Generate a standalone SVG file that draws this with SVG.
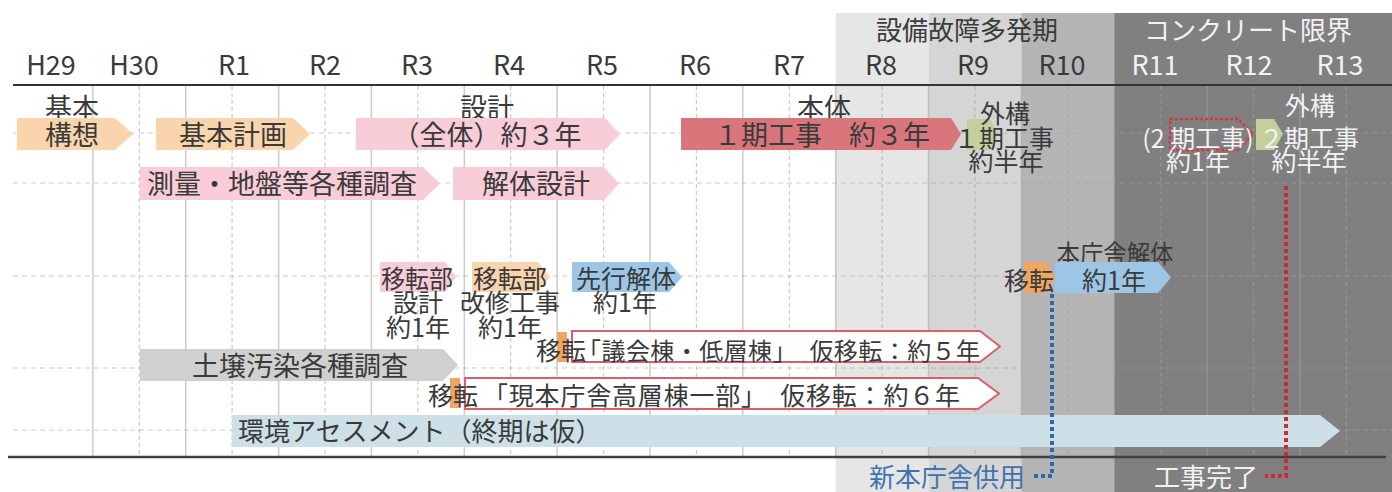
<svg xmlns="http://www.w3.org/2000/svg" width="1392" height="492" viewBox="0 0 1392 492">
<style>
text{font-family:"Noto Sans CJK JP","Noto Sans",sans-serif;fill:#3a3a3a}
.yr{font-size:27px;text-anchor:middle}
.hd{font-size:26px;text-anchor:middle}
.m{font-size:27px;text-anchor:middle}
.s{font-size:25px;text-anchor:middle}
.w{fill:#f2f2f2}
.gs{stroke:#a0a0a0;stroke-opacity:0.55;stroke-width:1.5}
.gd{stroke:#a0a0a0;stroke-opacity:0.55;stroke-width:1.2;stroke-dasharray:4 3}
.gh{stroke:#a0a0a0;stroke-opacity:0.55;stroke-width:1.2;stroke-dasharray:5 4}
.or{fill:#f9d4ac}
.od{fill:#efa662}
.pk{fill:#f8cdd8}
.rd{fill:#d8767b}
.gn{fill:#c4d09b}
.bl{fill:#9dc6e6}
.gy{fill:#d0d0d0}
.lb{fill:#cde0e8}
.ol{fill:#ffffff;stroke:#d9606a;stroke-width:2}
.dol{fill:none;stroke:#d8353d;stroke-width:2.5;stroke-dasharray:3 2}
.mb{fill:none;stroke:#2f6aa8;stroke-width:4;stroke-dasharray:4 3}
.mr{fill:none;stroke:#cc2a30;stroke-width:4;stroke-dasharray:4 3}
</style>
<rect width="1392" height="492" fill="#ffffff"/>
<g id="zones">
<rect x="835.7" y="13" width="92.8" height="479" fill="#e6e6e6"/>
<rect x="928.5" y="13" width="92.9" height="479" fill="#d5d5d5"/>
<rect x="1021.4" y="13" width="92.8" height="479" fill="#b5b5b5"/>
<rect x="1114.2" y="13" width="277.8" height="479" fill="#808080"/>
</g>
<g id="grid">
<g class="gs">
<line x1="92.85" y1="86" x2="92.85" y2="457"/><line x1="185.7" y1="86" x2="185.7" y2="457"/><line x1="278.6" y1="86" x2="278.6" y2="457"/><line x1="371.4" y1="86" x2="371.4" y2="457"/><line x1="464.3" y1="86" x2="464.3" y2="457"/><line x1="557.1" y1="86" x2="557.1" y2="457"/><line x1="650" y1="86" x2="650" y2="457"/><line x1="742.8" y1="86" x2="742.8" y2="457"/><line x1="835.7" y1="86" x2="835.7" y2="457"/><line x1="928.5" y1="86" x2="928.5" y2="457"/><line x1="1021.4" y1="86" x2="1021.4" y2="457"/><line x1="1114.2" y1="86" x2="1114.2" y2="457"/><line x1="1207.1" y1="86" x2="1207.1" y2="457"/><line x1="1300" y1="86" x2="1300" y2="457"/>
</g>
<g class="gd">
<line x1="139.3" y1="86" x2="139.3" y2="457"/><line x1="232.1" y1="86" x2="232.1" y2="457"/><line x1="325" y1="86" x2="325" y2="457"/><line x1="417.8" y1="86" x2="417.8" y2="457"/><line x1="510.7" y1="86" x2="510.7" y2="457"/><line x1="603.6" y1="86" x2="603.6" y2="457"/><line x1="696.4" y1="86" x2="696.4" y2="457"/><line x1="789.3" y1="86" x2="789.3" y2="457"/><line x1="882.1" y1="86" x2="882.1" y2="457"/><line x1="975" y1="86" x2="975" y2="457"/><line x1="1067.8" y1="86" x2="1067.8" y2="457"/><line x1="1160.7" y1="86" x2="1160.7" y2="457"/><line x1="1253.5" y1="86" x2="1253.5" y2="457"/><line x1="1346.4" y1="86" x2="1346.4" y2="457"/>
</g>
<g class="gh">
<line x1="13" y1="133" x2="1392" y2="133"/><line x1="13" y1="183" x2="1392" y2="183"/><line x1="13" y1="276" x2="1392" y2="276"/><line x1="13" y1="368" x2="1392" y2="368"/><line x1="13" y1="430" x2="1392" y2="430"/>
</g>
<line x1="13" y1="85" x2="1392" y2="85" stroke="#333333" stroke-width="2"/>
<line x1="8" y1="457" x2="1386" y2="457" stroke="#404040" stroke-width="2.5"/>
</g>
<g id="header">
<text class="hd" x="967" y="40">設備故障多発期</text>
<text class="hd w" x="1248" y="40">コンクリート限界</text>
<text class="yr" x="51" y="75">H29</text>
<text class="yr" x="134" y="75">H30</text>
<text class="yr" x="234" y="75">R1</text>
<text class="yr" x="325" y="75">R2</text>
<text class="yr" x="417" y="75">R3</text>
<text class="yr" x="509" y="75">R4</text>
<text class="yr" x="602" y="75">R5</text>
<text class="yr" x="695" y="75">R6</text>
<text class="yr" x="789" y="75">R7</text>
<text class="yr" x="881" y="75">R8</text>
<text class="yr" x="973" y="75">R9</text>
<text class="yr" x="1062" y="75">R10</text>
<text class="yr w" x="1155" y="75">R11</text>
<text class="yr w" x="1249" y="75">R12</text>
<text class="yr w" x="1340" y="75">R13</text>
</g>
<g id="kihon-kousou">
<text class="m" x="72" y="118">基本</text>
<polygon class="or" points="17,118 115,118 133,134 115,150 17,150"/>
<text class="m" x="72" y="145">構想</text>
</g>
<g id="kihon-keikaku">
<polygon class="or" points="156,118 293,118 310,134 293,150 156,150"/>
<text class="m" x="233" y="145">基本計画</text>
</g>
<g id="sekkei">
<text class="m" x="487" y="118">設計</text>
<polygon class="pk" points="356,118 605,118 620,134 605,150 356,150"/>
<text class="m" x="487" y="145">（全体）約３年</text>
</g>
<g id="hontai">
<text class="m" x="824" y="118">本体</text>
<polygon class="rd" points="681,118 951,118 961,134 951,150 681,150"/>
<text class="m" x="822" y="145">１期工事　約３年</text>
</g>
<g id="gaikou-1">
<polygon class="gn" points="967,119 990,119 998,134 990,150 967,150"/>
<text class="s" x="1005" y="123">外構</text>
<text class="s" x="1004" y="148">１期工事</text>
<text class="s" x="1006" y="171">約半年</text>
</g>
<g id="ki2-kouji">
<polygon class="dol" points="1170,119 1238,119 1253,134 1238,150 1170,150"/>
<text class="s w" x="1198" y="148">(2 期工事)</text>
<text class="s w" x="1198" y="171">約1年</text>
</g>
<g id="gaikou-2">
<polygon class="gn" points="1256,119 1274,119 1283,134 1274,150 1256,150"/>
<text class="s w" x="1310" y="115">外構</text>
<text class="s w" x="1309" y="148">２期工事</text>
<text class="s w" x="1309" y="171">約半年</text>
</g>
<g id="sokuryou">
<polygon class="pk" points="140,167 423,167 440,183.5 423,200 140,200"/>
<text class="m" x="282" y="194">測量・地盤等各種調査</text>
</g>
<g id="kaitai-sekkei">
<polygon class="pk" points="453,167 604,167 619,183.5 604,200 453,200"/>
<text class="m" x="536" y="194">解体設計</text>
</g>
<g id="iten-sekkei">
<polygon class="pk" points="380,262 445,262 456,277 445,292 380,292"/>
<text class="s" x="417" y="288" textLength="72" lengthAdjust="spacingAndGlyphs">移転部</text>
<text class="s" x="418" y="312">設計</text>
<text class="s" x="418" y="337">約1年</text>
</g>
<g id="iten-kaishu">
<polygon class="or" points="472,262 538,262 550,277 538,292 472,292"/>
<text class="s" x="510" y="288" textLength="74" lengthAdjust="spacingAndGlyphs">移転部</text>
<text class="s" x="510" y="312">改修工事</text>
<text class="s" x="510" y="337">約1年</text>
</g>
<g id="senkou-kaitai">
<polygon class="bl" points="572,262 669,262 682,277 669,292 572,292"/>
<text class="s" x="626" y="288">先行解体</text>
<text class="s" x="625" y="312">約1年</text>
</g>
<g id="honchousha-kaitai">
<text class="s" x="1115" y="263" textLength="117" lengthAdjust="spacingAndGlyphs">本庁舎解体</text>
<polygon class="od" points="1024,262 1046,262 1055,277.5 1046,293 1024,293"/>
<polygon class="bl" points="1055,262 1158,262 1171,277.5 1158,293 1055,293"/>
<text class="s" x="1029" y="290">移転</text>
<text class="s" x="1114" y="290">約1年</text>
</g>
<g id="gikai-iten">
<polygon class="ol" points="572,331 980,331 1000,346.5 980,362 572,362"/>
<rect class="od" x="557" y="332" width="10" height="30"/>
<text class="s" x="561" y="360">移転</text>
<text x="577" y="360" font-size="24" textLength="403" lengthAdjust="spacing">「議会棟・低層棟」　仮移転：約５年</text>
</g>
<g id="dojou">
<polygon class="gy" points="140,349 443,349 458,365 443,381 140,381"/>
<text class="m" x="300" y="376">土壌汚染各種調査</text>
</g>
<g id="kousou-iten">
<polygon class="ol" points="465,378 978,378 999,393.5 978,409 465,409"/>
<rect class="od" x="450" y="378" width="10" height="30"/>
<text class="s" x="453" y="405">移転</text>
<text x="483" y="405" font-size="25" textLength="477" lengthAdjust="spacing">「現本庁舎高層棟一部」　仮移転：約６年</text>
</g>
<g id="assessment">
<polygon class="lb" points="232,415 1320,415 1340,431 1320,447 232,447"/>
<text x="238" y="441" font-size="26">環境アセスメント（終期は仮）</text>
</g>
<g id="connectors">
<polyline class="mb" points="1052,294 1052,476 1031,476"/>
<polyline class="mr" points="1286,186 1286,476 1265,476"/>
</g>
<g id="milestones">
<text x="1025" y="487" font-size="26" text-anchor="end" style="fill:#3f74ad">新本庁舎供用</text>
<text class="w" x="1258" y="487" font-size="26" text-anchor="end">工事完了</text>
</g>
</svg>
